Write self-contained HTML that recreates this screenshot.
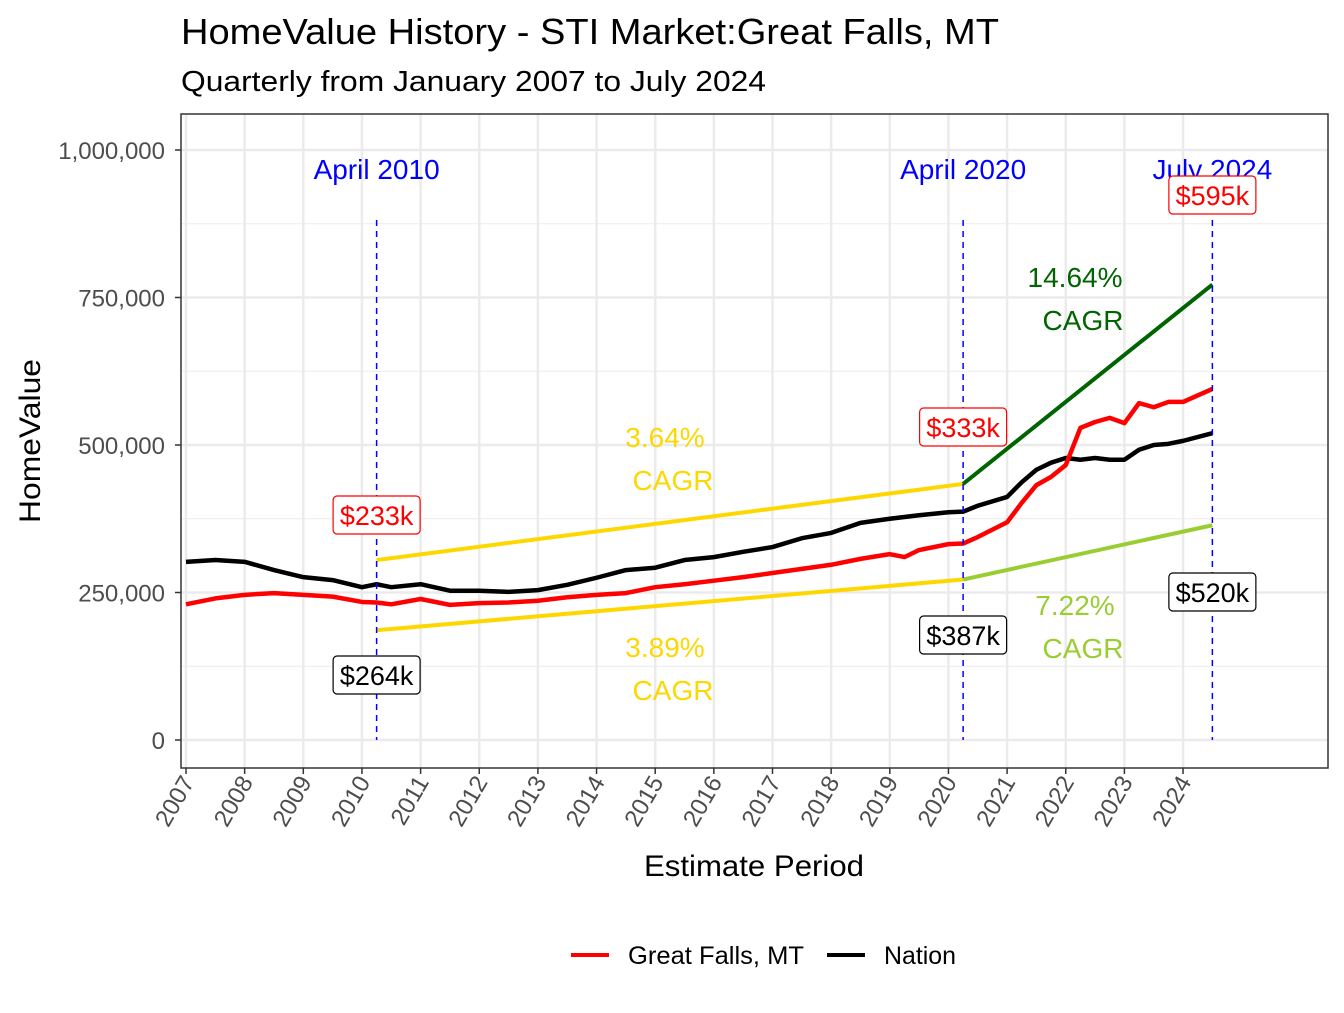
<!DOCTYPE html>
<html><head><meta charset="utf-8"><style>
body{margin:0;background:#fff;}
svg text{font-family:"Liberation Sans",Arial,sans-serif;}
</style></head><body>
<svg id="chart" width="1344" height="1008" viewBox="0 0 1344 1008" xmlns="http://www.w3.org/2000/svg">
<text x="181" y="44" font-size="36" textLength="818" lengthAdjust="spacingAndGlyphs" fill="#000">HomeValue History - STI Market:Great Falls, MT</text>
<text x="181" y="91" font-size="29" textLength="585" lengthAdjust="spacingAndGlyphs" fill="#000">Quarterly from January 2007 to July 2024</text>
<g id="plot"></g>
<text transform="translate(40,441) rotate(-90)" text-anchor="middle" font-size="30" textLength="164" lengthAdjust="spacingAndGlyphs" fill="#000">HomeValue</text>
<text x="754" y="876" text-anchor="middle" font-size="30" textLength="220" lengthAdjust="spacingAndGlyphs" fill="#000">Estimate Period</text>
<g>
<g><line x1="571" y1="955" x2="609" y2="955" stroke="#ff0000" stroke-width="4"/><text x="628" y="964" font-size="25" textLength="176" lengthAdjust="spacingAndGlyphs">Great Falls, MT</text></g>
<g><line x1="827" y1="955" x2="865" y2="955" stroke="#000" stroke-width="4"/><text x="884" y="964" font-size="25" textLength="72" lengthAdjust="spacingAndGlyphs">Nation</text></g>
</g>
</svg>
<script>
const years=[2007,2008,2009,2010,2011,2012,2013,2014,2015,2016,2017,2018,2019,2020,2021,2022,2023,2024];
const yTicks=[0,250000,500000,750000,1000000];
const yTickLabels=["0","250,000","500,000","750,000","1,000,000"];
const periods=[2007,2007.5,2008,2008.5,2009,2009.5,2010,2010.25,2010.5,2011,2011.5,2012,2012.5,2013,2013.5,2014,2014.5,2015,2015.5,2016,2016.5,2017,2017.5,2018,2018.5,2019,2019.25,2019.5,2020,2020.25,2020.5,2021,2021.25,2021.5,2021.75,2022,2022.25,2022.5,2022.75,2023,2023.25,2023.5,2023.75,2024,2024.5];
const greatFalls=[230,240,246,249,246,243,234,233,230,239,229,232,233,236,242,246,249,259,264,270,276,283,290,297,307,315,310,322,332,333,344,369,402,432,446,466,529,539,546,537,571,564,573,573,595];
const nation=[302,305,302,288,276,271,259,264,259,264,253,253,251,254,263,275,288,292,305,310,319,327,342,351,368,375,378,381,386,387,397,412,437,458,470,478,475,478,475,475,492,500,502,507,520];
const cagrLines=[
 {name:"cagr-gf-2010-2020",x:[2010.25,2020.25],v:[305,434],c:"#ffd700"},
 {name:"cagr-nation-2010-2020",x:[2010.25,2020.25],v:[186,272],c:"#ffd700"},
 {name:"cagr-gf-2020-2024",x:[2020.25,2024.5],v:[434,772],c:"#006400"},
 {name:"cagr-nation-2020-2024",x:[2020.25,2024.5],v:[272,364],c:"#9acd32"}];
const cagrTexts=[["3.64%",665,437,"#ffd700"],["3.89%",665,647,"#ffd700"],["14.64%",1075,277,"#006400"],["7.22%",1075,605,"#9acd32"]];
const markers=[[2010.25,"April 2010"],[2020.25,"April 2020"],[2024.5,"July 2024"]];
const gfLabels=[[2010.25,"$233k",515],[2020.25,"$333k",427],[2024.5,"$595k",195]];
const natLabels=[[2010.25,"$264k",675],[2020.25,"$387k",635],[2024.5,"$520k",592]];

const NS="http://www.w3.org/2000/svg";
const X=t=>186+(t-2007)*58.65;
const Y=v=>740-v/250000*147.5;
const g=document.getElementById('plot');
function mk(tag,attrs,parent){const e=document.createElementNS(NS,tag);for(const k in attrs)e.setAttribute(k,attrs[k]);(parent||g).appendChild(e);return e;}
for(let i=0;i<4;i++){const l=mk('line',{x1:181,x2:1328,y1:Y(125000+i*250000),y2:Y(125000+i*250000),stroke:'#ebebeb','stroke-width':1});

}
yTicks.forEach((t,i)=>{const l=mk('line',{x1:181,x2:1328,y1:Y(t),y2:Y(t),stroke:'#ebebeb','stroke-width':2.5});


mk('line',{x1:175,x2:181,y1:Y(t),y2:Y(t),stroke:'#333','stroke-width':1.5});
const tx=mk('text',{x:165,y:Y(t)+9,'text-anchor':'end','font-size':24,fill:'#4d4d4d'});tx.textContent=yTickLabels[i];

});
years.forEach(yr=>{const l=mk('line',{x1:X(yr),x2:X(yr),y1:114,y2:768,stroke:'#ebebeb','stroke-width':2.5});


mk('line',{x1:X(yr),x2:X(yr),y1:768,y2:774,stroke:'#333','stroke-width':1.5});
const tx=mk('text',{transform:`translate(${X(yr)+9},${782}) rotate(-60)`,'text-anchor':'end','font-size':24,fill:'#4d4d4d'});tx.textContent=yr;

});
function line(xs,vs,color,name,w){const p=mk('polyline',{points:xs.map((x,i)=>X(x)+','+Y(vs[i]*1000)).join(' '),fill:'none',stroke:color,'stroke-width':w,'stroke-linejoin':'round'});

}
line(periods,nation,'#000','nation-line',4.5);
line(periods,greatFalls,'#ff0000','great-falls-line',4.5);
cagrLines.forEach(c=>line(c.x,c.v,c.c,c.name,4));
cagrTexts.forEach(c=>{const t=mk('text',{x:c[1],y:c[2]+10,'text-anchor':'middle','font-size':28,fill:c[3]});t.textContent=c[0];


const t2=mk('text',{x:c[1]+8,y:c[2]+53,'text-anchor':'middle','font-size':28,fill:c[3]});t2.textContent='CAGR';

});
markers.forEach(m=>{const l=mk('line',{x1:X(m[0]),x2:X(m[0]),y1:220,y2:740,stroke:'#0000ff','stroke-width':1.5,'stroke-dasharray':'6,5'});


const t=mk('text',{x:X(m[0]),y:179,'text-anchor':'middle','font-size':28,fill:'#0000ff'});t.textContent=m[1];

});
function box(x,y,txt,color,name){const grp=mk('g',{});


const w=txt.length*15+12;mk('rect',{x:x-w/2,y:y-19,width:w,height:38,rx:4,fill:'#fff',stroke:color,'stroke-width':1.2},grp);
const t=mk('text',{x:x,y:y+10,'text-anchor':'middle','font-size':27,fill:color},grp);t.textContent=txt;}
gfLabels.forEach(l=>box(X(l[0]),l[2],l[1],'#ff0000','great-falls-value-label'));
natLabels.forEach(l=>box(X(l[0]),l[2],l[1],'#000','nation-value-label'));
const fr=mk('rect',{x:181,y:114,width:1147,height:654,fill:'none',stroke:'#333','stroke-width':1.5});


</script>
</body></html>
